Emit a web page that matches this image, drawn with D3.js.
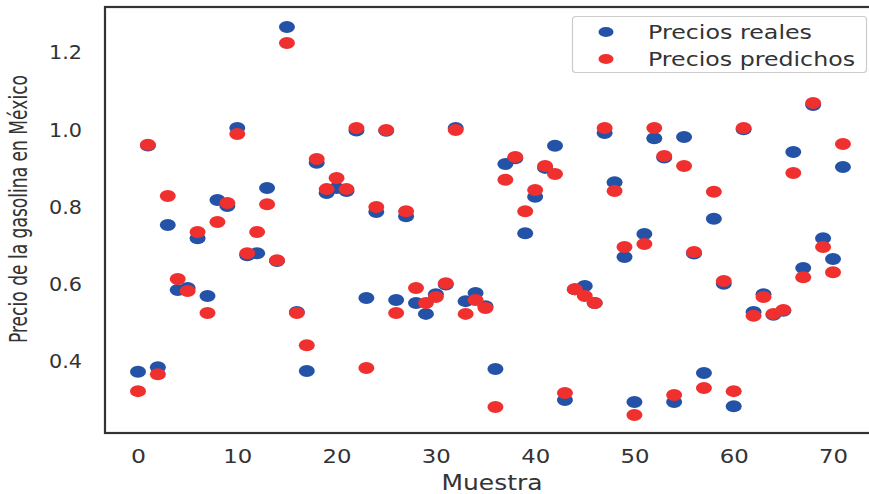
<!DOCTYPE html>
<html>
<head>
<meta charset="utf-8">
<script src="https://cdn.jsdelivr.net/npm/d3@7"></script>
<style>
  html, body { margin: 0; padding: 0; background: #fff; }
  svg { display: block; }
</style>
</head>
<body>
<div id="chart"></div>
<script>
// ---- Data ----
const muestra = d3.range(72);
const preciosReales = [
  0.372, 0.958, 0.384, 0.752, 0.584, 0.589, 0.718, 0.568, 0.817, 0.801,
  1.003, 0.674, 0.679, 0.848, 0.659, 1.265, 0.527, 0.374, 0.913, 0.835,
  0.848, 0.840, 0.997, 0.563, 0.786, 0.996, 0.558, 0.775, 0.550, 0.522,
  0.573, 0.598, 1.003, 0.555, 0.576, 0.542, 0.379, 0.910, 0.925, 0.731,
  0.825, 0.900, 0.957, 0.299, 0.586, 0.594, 0.550, 0.990, 0.863, 0.669,
  0.294, 0.729, 0.977, 0.927, 0.294, 0.980, 0.678, 0.369, 0.768, 0.600,
  0.283, 1.000, 0.527, 0.573, 0.520, 0.530, 0.941, 0.641, 1.063, 0.718,
  0.664, 0.902
];
const preciosPredichos = [
  0.322, 0.960, 0.366, 0.827, 0.612, 0.581, 0.734, 0.524, 0.760, 0.809,
  0.988, 0.679, 0.734, 0.806, 0.661, 1.223, 0.524, 0.441, 0.923, 0.845,
  0.874, 0.845, 1.003, 0.382, 0.799, 0.998, 0.524, 0.788, 0.589, 0.550,
  0.566, 0.601, 0.998, 0.522, 0.558, 0.537, 0.281, 0.869, 0.928, 0.788,
  0.843, 0.905, 0.884, 0.317, 0.586, 0.568, 0.550, 1.003, 0.840, 0.695,
  0.260, 0.703, 1.003, 0.931, 0.312, 0.905, 0.682, 0.330, 0.838, 0.607,
  0.322, 1.003, 0.517, 0.566, 0.522, 0.532, 0.887, 0.617, 1.068, 0.695,
  0.630, 0.962
];
const xTicks = [0, 10, 20, 30, 40, 50, 60, 70];
const yTicks = [0.4, 0.6, 0.8, 1.0, 1.2];
const seriesNames = ["Precios reales", "Precios predichos"];

// ---- Layout ----
const W = 869, H = 494;
const frame = { left: 105, top: 7, right: 882, bottom: 433 };
const colors = ["#2352a6", "#f0302f"];
const textColor = "#333333";

const svg = d3.select("#chart").append("svg")
  .attr("width", W).attr("height", H);

const x = d3.scaleLinear().domain([0, 70]).range([138, 833]);
const y = d3.scaleLinear().domain([0.4, 1.2]).range([361, 52]);

// frame
svg.append("rect")
  .attr("x", frame.left).attr("y", frame.top)
  .attr("width", frame.right - frame.left).attr("height", frame.bottom - frame.top)
  .attr("fill", "none").attr("stroke", "#333").attr("stroke-width", 2.2);

// axes (labels only, no tick marks)
const xAxis = d3.axisBottom(x).tickValues(xTicks).tickFormat(d3.format("d")).tickSize(0).tickPadding(0);
const gx = svg.append("g").attr("transform", `translate(0,${frame.bottom})`).call(xAxis);
gx.select(".domain").remove();
gx.selectAll("text")
  .attr("y", 30).attr("dy", null)
  .attr("font-family", "DejaVu Sans").attr("font-size", 19).attr("fill", textColor)
  .attr("textLength", d => String(d).length === 1 ? 15 : 29)
  .attr("lengthAdjust", "spacingAndGlyphs");

const yAxis = d3.axisLeft(y).tickValues(yTicks).tickFormat(d3.format(".1f")).tickSize(0).tickPadding(0);
const gy = svg.append("g").attr("transform", `translate(82,0)`).call(yAxis);
gy.select(".domain").remove();
gy.selectAll("text")
  .attr("x", 0).attr("dy", "0.36em")
  .attr("font-family", "DejaVu Sans").attr("font-size", 19).attr("fill", textColor)
  .attr("textLength", 33).attr("lengthAdjust", "spacingAndGlyphs");

// axis titles
svg.append("text")
  .attr("x", 492).attr("y", 490)
  .attr("text-anchor", "middle")
  .attr("font-family", "DejaVu Sans").attr("font-size", 21).attr("fill", textColor)
  .attr("textLength", 101).attr("lengthAdjust", "spacingAndGlyphs")
  .text("Muestra");

svg.append("text")
  .attr("transform", "translate(27,209) rotate(-90)")
  .attr("text-anchor", "middle")
  .attr("font-family", "Liberation Sans Narrow, DejaVu Sans Condensed, sans-serif")
  .attr("font-size", 24).attr("fill", textColor)
  .attr("textLength", 268).attr("lengthAdjust", "spacingAndGlyphs")
  .text("Precio de la gasolina en México");

// points
const series = [preciosReales, preciosPredichos];
series.forEach((vals, si) => {
  svg.append("g").selectAll("ellipse")
    .data(muestra)
    .join("ellipse")
    .attr("cx", i => x(i))
    .attr("cy", i => y(vals[i]))
    .attr("rx", 8).attr("ry", 6)
    .attr("fill", colors[si]);
});

// legend
const lg = svg.append("g");
lg.append("rect")
  .attr("x", 572.5).attr("y", 16.5).attr("width", 294).attr("height", 56)
  .attr("rx", 3).attr("fill", "#fff").attr("fill-opacity", 0.85)
  .attr("stroke", "#cccccc").attr("stroke-width", 1.2);
const legendLen = [164, 207];
seriesNames.forEach((name, i) => {
  const cy = 32 + i * 27;
  lg.append("ellipse").attr("cx", 606).attr("cy", cy).attr("rx", 7.5).attr("ry", 5)
    .attr("fill", colors[i]);
  lg.append("text").attr("x", 648).attr("y", cy + 7)
    .attr("font-family", "DejaVu Sans").attr("font-size", 19).attr("fill", textColor)
    .attr("textLength", legendLen[i]).attr("lengthAdjust", "spacingAndGlyphs")
    .text(name);
});
</script>
</body>
</html>
